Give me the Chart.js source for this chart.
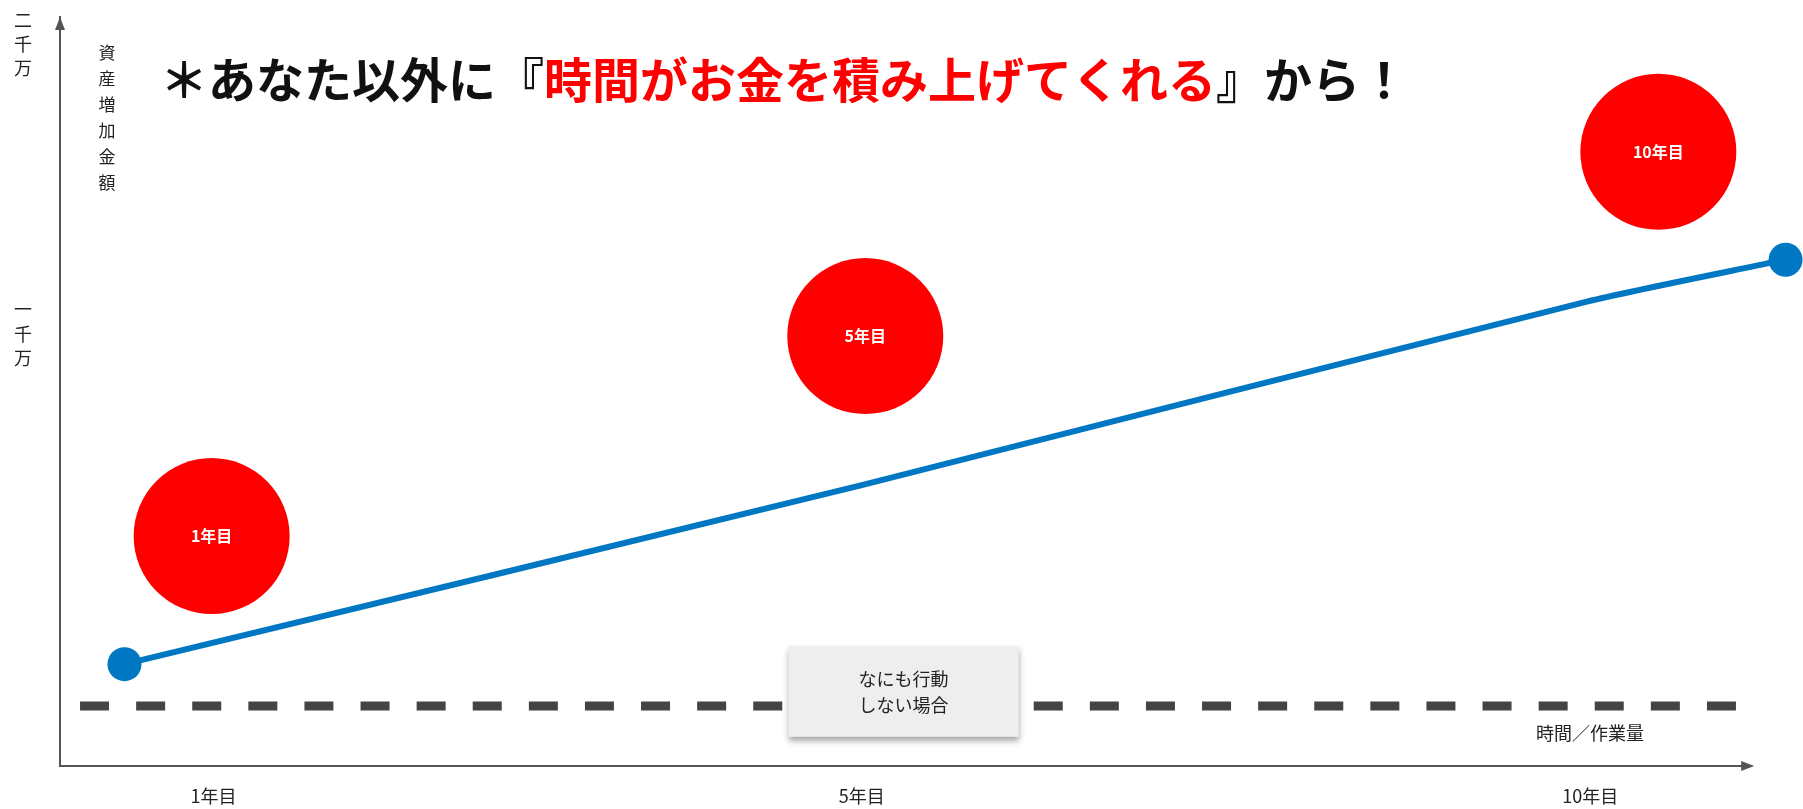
<!DOCTYPE html>
<html lang="ja">
<head>
<meta charset="utf-8">
<title>資産増加グラフ</title>
<script src="https://cdn.jsdelivr.net/npm/chart.js@4.4.1/dist/chart.umd.min.js"></script>
<style>
  html, body { margin: 0; padding: 0; background: #fff; }
  #wrap { width: 1803px; height: 809px; }
</style>
</head>
<body>
<div id="wrap"><canvas id="growthChart" width="1803" height="809"></canvas></div>
<script>
// ---- データ ----
const xTickValues = [8.8, 46.0, 87.8];
const xTickLabels = ['1年目', '5年目', '10年目'];
const yTickValues = [57.7, 96.4];
const yTickLabels = [['一', '千', '万'], ['二', '千', '万']];

const growthX = [3.7, 46.0, 87.6, 99.0];
const growthY = [13.6, 37.5, 62, 67.6];

const milestoneX = [8.7, 46.2, 91.7];
const milestoneY = [30.7, 57.4, 82.0];
const milestoneLabels = ['1年目', '5年目', '10年目'];

const noActionX = [1.15, 96.2];
const noActionY = [8, 8];

const xAxisEnd = 97.2;

const FONT = "'Noto Sans CJK JP', 'Noto Sans', sans-serif";
const AXIS_COLOR = '#555';

// ---- 注記・矢印・タイトルの描画 ----
const overlayPlugin = {
    id: 'overlay',
    afterDatasetsDraw(chart) {
        const ctx = chart.ctx;
        const xs = chart.scales.x;
        const ys = chart.scales.y;
        const area = chart.chartArea;

        // 赤丸のラベル
        ctx.save();
        ctx.fillStyle = '#fff';
        ctx.font = 'bold 16px ' + FONT;
        ctx.textAlign = 'center';
        ctx.textBaseline = 'middle';
        milestoneLabels.forEach((t, i) => {
            ctx.fillText(t, xs.getPixelForValue(milestoneX[i]), ys.getPixelForValue(milestoneY[i]));
        });
        ctx.restore();

        // 「なにも行動しない場合」ボックス
        const bx1 = xs.getPixelForValue(41.8), bx2 = xs.getPixelForValue(55.0);
        const by1 = ys.getPixelForValue(16.0), by2 = ys.getPixelForValue(3.9);
        ctx.save();
        ctx.shadowColor = 'rgba(0,0,0,0.35)';
        ctx.shadowBlur = 6;
        ctx.shadowOffsetY = 4;
        ctx.fillStyle = '#eeeeee';
        ctx.fillRect(bx1, by1, bx2 - bx1, by2 - by1);
        ctx.restore();
        ctx.save();
        ctx.fillStyle = '#222';
        ctx.font = '18px ' + FONT;
        ctx.textAlign = 'center';
        ctx.textBaseline = 'middle';
        const cx = (bx1 + bx2) / 2;
        ctx.fillText('なにも行動', cx, by1 + 33);
        ctx.fillText('しない場合', cx, by1 + 59);
        ctx.restore();

        // x軸の線と矢印、y軸の矢印
        const xEnd = xs.getPixelForValue(xAxisEnd);
        ctx.save();
        ctx.strokeStyle = AXIS_COLOR;
        ctx.lineWidth = 2;
        ctx.beginPath();
        ctx.moveTo(area.left - 1, area.bottom);
        ctx.lineTo(xEnd - 8, area.bottom);
        ctx.stroke();
        ctx.fillStyle = AXIS_COLOR;
        ctx.beginPath();
        ctx.moveTo(area.left, area.top);
        ctx.lineTo(area.left - 5, area.top + 13);
        ctx.lineTo(area.left + 5, area.top + 13);
        ctx.closePath();
        ctx.fill();
        ctx.beginPath();
        ctx.moveTo(xEnd, area.bottom);
        ctx.lineTo(xEnd - 13, area.bottom - 5);
        ctx.lineTo(xEnd - 13, area.bottom + 5);
        ctx.closePath();
        ctx.fill();
        ctx.restore();

        // 軸タイトル
        ctx.save();
        ctx.fillStyle = '#222';
        ctx.font = '17px ' + FONT;
        ctx.textAlign = 'center';
        ctx.textBaseline = 'middle';
        Array.from('資産増加金額').forEach((c, i) => {
            ctx.fillText(c, 107, 53 + i * 26);
        });
        ctx.font = '18px ' + FONT;
        ctx.fillText('時間／作業量', 1590, 733);
        ctx.restore();

        // 見出し
        ctx.save();
        ctx.font = 'bold 48px ' + FONT;
        ctx.textBaseline = 'middle';
        ctx.textAlign = 'left';
        const parts = [
            ['＊あなた以外に『', '#111'],
            ['時間がお金を積み上げてくれる', '#ff0000'],
            ['』から！', '#111']
        ];
        let x = 160;
        parts.forEach(([t, col]) => {
            ctx.fillStyle = col;
            ctx.fillText(t, x, 80);
            x += ctx.measureText(t).width;
        });
        ctx.restore();
    }
};

new Chart(document.getElementById('growthChart'), {
    data: {
        datasets: [
            {
                type: 'line',
                label: 'なにも行動しない場合',
                data: noActionX.map((v, i) => ({ x: v, y: noActionY[i] })),
                borderColor: '#444',
                borderWidth: 9,
                borderDash: [29, 27.1],
                pointRadius: 0,
                order: 3
            },
            {
                type: 'line',
                label: '資産',
                data: growthX.map((v, i) => ({ x: v, y: growthY[i] })),
                borderColor: '#0077c2',
                backgroundColor: '#0077c2',
                borderWidth: 6,
                tension: 0.25,
                pointRadius: [17, 0, 0, 17],
                pointHoverRadius: [17, 0, 0, 17],
                pointBorderWidth: 0,
                clip: false,
                order: 2
            },
            {
                type: 'bubble',
                label: '節目',
                data: milestoneX.map((v, i) => ({ x: v, y: milestoneY[i], r: 78 })),
                backgroundColor: '#ff0000',
                borderWidth: 0,
                clip: false,
                order: 1
            }
        ]
    },
    options: {
        responsive: false,
        animation: false,
        events: [],
        layout: { autoPadding: false, padding: { top: 17, right: 0, left: 0, bottom: 0 } },
        plugins: {
            legend: { display: false },
            tooltip: { enabled: false }
        },
        scales: {
            x: {
                type: 'linear',
                min: 0,
                max: 100,
                grid: { display: false, drawTicks: false },
                border: { display: false },
                afterBuildTicks: (scale) => { scale.ticks = xTickValues.map(v => ({ value: v })); },
                afterFit: (scale) => {
                    scale.height = 43;
                    scale.paddingLeft = 0;
                    scale.paddingRight = 0;
                },
                ticks: {
                    padding: 19,
                    color: '#222',
                    font: { family: FONT, size: 18 },
                    maxRotation: 0,
                    callback: (v, i) => xTickLabels[i]
                }
            },
            y: {
                type: 'linear',
                min: 0,
                max: 100,
                grid: { display: false, drawTicks: false },
                border: { display: true, color: AXIS_COLOR, width: 2 },
                afterBuildTicks: (scale) => { scale.ticks = yTickValues.map(v => ({ value: v })); },
                afterFit: (scale) => {
                    scale.width = 60;
                    scale.paddingTop = 0;
                    scale.paddingBottom = 0;
                },
                ticks: {
                    padding: 28,
                    crossAlign: 'center',
                    color: '#222',
                    font: { family: FONT, size: 18, lineHeight: 1.35 },
                    callback: (v, i) => yTickLabels[i]
                }
            }
        }
    },
    plugins: [overlayPlugin]
});
</script>
</body>
</html>
